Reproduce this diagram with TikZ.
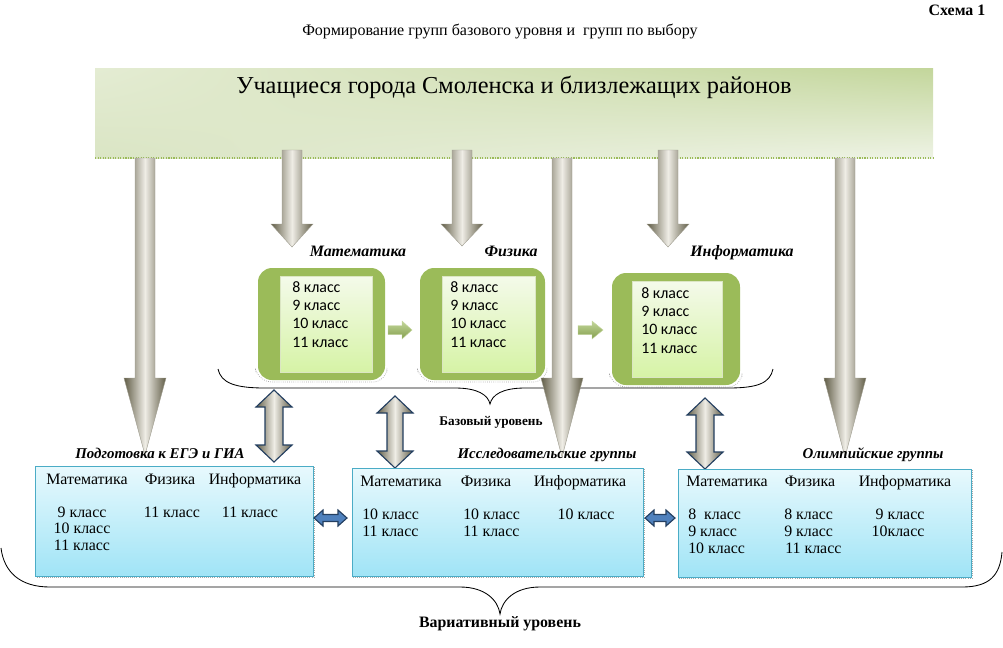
\documentclass[tikz,border=0pt]{standalone}
\usepackage{fontspec}
\setmainfont{Liberation Serif}
\newfontfamily\calfont{Carlito}
\usetikzlibrary{positioning, shadings}

\definecolor{arrdark}{HTML}{615D47}
\definecolor{arrlight}{HTML}{EFEDE6}
\definecolor{navy}{HTML}{243F60}
\definecolor{olive}{HTML}{9BBB59}
\definecolor{olivelt}{HTML}{C3D69B}
\definecolor{topul}{HTML}{E4ECD3}
\definecolor{topur}{HTML}{C3D69B}
\definecolor{topll}{HTML}{DAE5C4}
\definecolor{toplr}{HTML}{EEF3E5}
\definecolor{paneltop}{HTML}{F4FAEA}
\definecolor{panelbot}{HTML}{D6F3A6}
\definecolor{skytop}{HTML}{E8F9FD}
\definecolor{skybot}{HTML}{A0E4F6}
\definecolor{skyline}{HTML}{4BACC6}
\definecolor{dblblue}{HTML}{4F81BD}

\tikzset{
  even/.style={inner sep=0pt, text height=2ex, text depth=.45ex},
  txt/.style={even, font=\fontsize{11.3}{13}\selectfont},
  cls/.style={even, anchor=west, font=\fontsize{11.3}{13}\selectfont},
  lbl/.style={even, font=\fontsize{11.3}{13}\selectfont\bfseries\itshape},
  grp/.style={even, font=\fontsize{10.6}{12}\selectfont\bfseries\itshape},
  kls/.style={even, anchor=west, font=\calfont\fontsize{11.3}{13}\selectfont},
  topbox/.style={upper left=topul, upper right=topur, lower left=topll, lower right=toplr},
  skybox/.style={draw=skyline, line width=.7pt, top color=skytop, bottom color=skybot},
  boxshadow/.style={gray!70, densely dotted, line width=.5pt},
  greenbox/.style={fill=olive, rounded corners=.35cm},
  panel/.style={draw=olivelt!60, line width=.6pt, top color=paneltop, bottom color=panelbot},
  greyarr/.style={draw=arrdark!60, line width=.3pt, left color=arrdark, right color=arrdark, middle color=arrlight},
  twinarr/.style={draw=navy, line width=.8pt, left color=arrdark, right color=arrdark, middle color=arrlight},
  greenarr/.style={draw=olivelt, line width=.3pt, top color=olivelt, bottom color=olive!85!black},
  bluearr/.style={draw=navy, line width=.8pt, fill=dblblue},
  brace/.style={line width=.6pt},
}

% x, y top, y head, y tip, shaft half, head half
\newcommand{\blockdown}[6]{%
  \path[greyarr] (#1-#5,#2) -- (#1+#5,#2) -- (#1+#5,#3) -- (#1+#6,#3) -- (#1,#4)
    -- (#1-#6,#3) -- (#1-#5,#3) -- cycle;}
% x, y top, y bottom, head length, shaft half, head half
\newcommand{\blocktwin}[6]{%
  \path[twinarr] (#1,#2) -- (#1+#6,#2+#4) -- (#1+#5,#2+#4) -- (#1+#5,#3-#4) -- (#1+#6,#3-#4)
    -- (#1,#3) -- (#1-#6,#3-#4) -- (#1-#5,#3-#4) -- (#1-#5,#2+#4) -- (#1-#6,#2+#4) -- cycle;}
% y, x left, x right, head length, shaft half, head half
\newcommand{\blocktwinh}[6]{%
  \path[bluearr] (#2,#1) -- (#2+#4,#1-#6) -- (#2+#4,#1-#5) -- (#3-#4,#1-#5) -- (#3-#4,#1-#6)
    -- (#3,#1) -- (#3-#4,#1+#6) -- (#3-#4,#1+#5) -- (#2+#4,#1+#5) -- (#2+#4,#1+#6) -- cycle;}
% y, x left, x head, x tip, shaft half, head half
\newcommand{\blockright}[6]{%
  \path[greenarr] (#2,#1-#5) -- (#3,#1-#5) -- (#3,#1-#6) -- (#4,#1) -- (#3,#1+#6)
    -- (#3,#1+#5) -- (#2,#1+#5) -- cycle;}

\begin{document}
\begin{tikzpicture}[x=0.025cm, y=-0.025cm]
\useasboundingbox (0,0) rectangle (1003,647);

\node[even, font=\fontsize{11.3}{13}\selectfont\bfseries] (scheme) at (957,10) {Схема 1};
\node[txt, font=\fontsize{11.4}{13}\selectfont] (caption) at (500,30) {Формирование групп базового уровня и\ \ групп по выбору};

% pupils
\path[topbox] (95,68) rectangle (933,158);
\draw[olive, densely dotted, line width=.8pt] (95,158) -- (933,158);
\node[even, font=\fontsize{17.3}{20}\selectfont] (pupils) at (514,88) {Учащиеся города Смоленска и близлежащих районов};

% arrows down
\blockdown{145}{158}{378}{455}{10}{21}
\blockdown{292}{150}{224}{247}{10}{21}
\blockdown{462}{150}{224}{246}{10}{21}
\blockdown{668}{150}{224}{247}{10}{21}

% base level
\draw[boxshadow, rounded corners=.35cm] (256,372) -- (258,382) -- (387,382) -- (387,372);
\path[greenbox] (258,268) rectangle (385,380);
\path[panel] (280,276) rectangle (372,372);
\draw[boxshadow, rounded corners=.35cm] (418,372) -- (420,382) -- (547,382) -- (547,372);
\path[greenbox] (420,268) rectangle (545,380);
\path[panel] (442,276) rectangle (535,372);
\draw[boxshadow, rounded corners=.35cm] (610,377) -- (612,387) -- (742,387) -- (742,377);
\path[greenbox] (612,273) rectangle (740,385);
\path[panel] (632,281) rectangle (722,377);

\blockright{330}{388}{402}{412}{4.5}{9}
\blockright{330}{578}{592}{603}{4.5}{9}

\node[kls] (m8) at (292,287) {8 класс};
\node[kls] (m9) at (292,305) {9 класс};
\node[kls] (m10) at (292,323) {10 класс};
\node[kls] (m11) at (292,342) {11 класс};
\node[kls] (f8) at (450,287) {8 класс};
\node[kls] (f9) at (450,305) {9 класс};
\node[kls] (f10) at (450,323) {10 класс};
\node[kls] (f11) at (450,342) {11 класс};
\node[kls] (i8) at (641,293) {8 класс};
\node[kls] (i9) at (641,311) {9 класс};
\node[kls] (i10) at (641,329) {10 класс};
\node[kls] (i11) at (641,348) {11 класс};

\node[lbl] (math) at (358,251) {Математика};
\node[lbl] (phys) at (511,251) {Физика};
\node[lbl] (inf) at (742,251) {Информатика};

\draw[brace] (218,369) .. controls (221,383) and (235,388) .. (265,388) -- (455,388)
  .. controls (478,388) and (488,395) .. (490,404) .. controls (492,395) and (502,388) .. (525,388)
  -- (728,388) .. controls (758,388) and (770,383) .. (773,369);
\node[even, font=\fontsize{9.4}{11}\selectfont\bfseries] (basic) at (491,420) {Базовый уровень};

% long arrows
\blockdown{562}{158}{378}{457}{10}{21}
\blockdown{845}{158}{378}{457}{10}{21}

% chosen groups
\blocktwin{274}{390}{462}{17}{9}{18}
\blocktwin{395}{396}{468}{17}{8}{18}
\blocktwin{705}{398}{469}{17}{9}{18}

\node[grp] (exam) at (160,453) {Подготовка к ЕГЭ и ГИА};
\node[grp] (research) at (547,453) {Исследовательские группы};
\node[grp] (olymp) at (873,453) {Олимпийские группы};

\draw[boxshadow] (314,467) -- (314,577) -- (36,577);
\path[skybox] (35,466) rectangle (313,576);
\draw[boxshadow] (644,469) -- (644,577) -- (353,577);
\path[skybox] (352,468) rectangle (643,576);
\draw[boxshadow] (972,470) -- (972,578) -- (679,578);
\path[skybox] (678,469) rectangle (971,577);

\blocktwinh{518}{314}{347}{9}{3.5}{8}
\blocktwinh{518}{645}{675}{9}{3.5}{8}

\node[txt] (a-math) at (87,479) {Математика};
\node[txt] (a-phys) at (170,479) {Физика};
\node[txt] (a-inf) at (255,479) {Информатика};
\node[txt] (a-m9) at (82,512) {9 класс};
\node[txt] (a-m10) at (82,528) {10 класс};
\node[txt] (a-m11) at (82,545) {11 класс};
\node[txt] (a-f11) at (172,512) {11 класс};
\node[txt] (a-i11) at (250,512) {11 класс};

\node[txt] (b-math) at (401,481) {Математика};
\node[txt] (b-phys) at (486,481) {Физика};
\node[txt] (b-inf) at (580,481) {Информатика};
\node[cls] (b-m10) at (362,514) {10 класс};
\node[cls] (b-m11) at (362,531) {11 класс};
\node[cls] (b-f10) at (463,514) {10 класс};
\node[cls] (b-f11) at (463,531) {11 класс};
\node[txt] (b-i10) at (586,514) {10 класс};

\node[txt] (c-math) at (727,481) {Математика};
\node[txt] (c-phys) at (810,481) {Физика};
\node[txt] (c-inf) at (905,481) {Информатика};
\node[cls] (c-m8) at (688,514) {8\ \ класс};
\node[cls] (c-m9) at (688,531) {9 класс};
\node[cls] (c-m10) at (688,548) {10 класс};
\node[cls] (c-f8) at (784,514) {8 класс};
\node[cls] (c-f9) at (784,531) {9 класс};
\node[cls] (c-f11) at (785,548) {11 класс};
\node[txt] (c-i9) at (900,514) {9 класс};
\node[txt] (c-i10) at (898,531) {10класс};

\draw[brace] (1,548) .. controls (4,572) and (20,587) .. (50,587) -- (460,587)
  .. controls (485,587) and (498,600) .. (500,614) .. controls (502,600) and (515,587) .. (540,587)
  -- (962,587) .. controls (990,587) and (1000,575) .. (1002,552);
\node[even, font=\fontsize{11.3}{13}\selectfont\bfseries] (variative) at (500,622) {Вариативный уровень};

\end{tikzpicture}
\end{document}
